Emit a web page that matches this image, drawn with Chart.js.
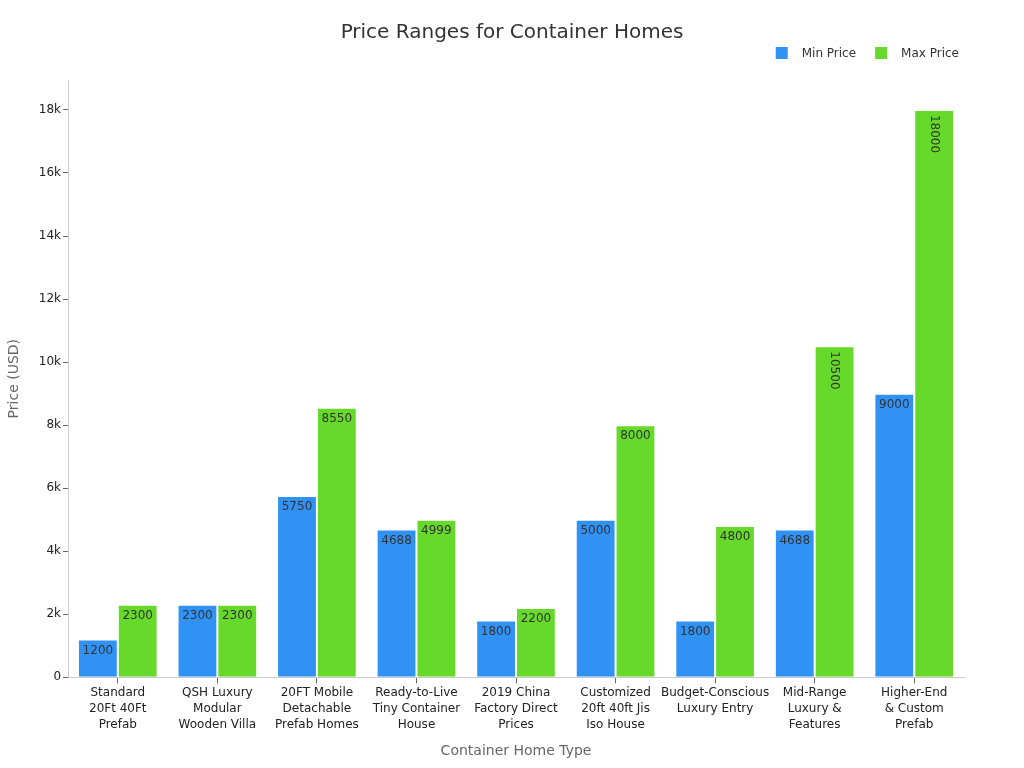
<!DOCTYPE html>
<html>
<head>
<meta charset="utf-8">
<script src="https://cdn.jsdelivr.net/npm/chart.js@4/dist/chart.umd.min.js"></script>
<style>
  html, body { margin: 0; padding: 0; background: #fff; }
  #wrap { width: 1024px; height: 768px; }
</style>
</head>
<body>
<div id="wrap"><canvas id="chart" width="1024" height="768"></canvas></div>
<script>
// container home price ranges
const categories = [
  ["Standard", "20Ft 40Ft", "Prefab"],
  ["QSH Luxury", "Modular", "Wooden Villa"],
  ["20FT Mobile", "Detachable", "Prefab Homes"],
  ["Ready-to-Live", "Tiny Container", "House"],
  ["2019 China", "Factory Direct", "Prices"],
  ["Customized", "20ft 40ft Jis", "Iso House"],
  ["Budget-Conscious", "Luxury Entry"],
  ["Mid-Range", "Luxury &", "Features"],
  ["Higher-End", "& Custom", "Prefab"],
];
const minPrice = [1200, 2300, 5750, 4688, 1800, 5000, 1800, 4688, 9000];
const maxPrice = [2300, 2300, 8550, 4999, 2200, 8000, 4800, 10500, 18000];
const yTicks = [0, 2000, 4000, 6000, 8000, 10000, 12000, 14000, 16000, 18000];

const FONT = "'DejaVu Sans', sans-serif";
const TITLE = "Price Ranges for Container Homes";

// draws the value inside the top of each bar, turned sideways if it won't fit
const barLabels = {
  id: "barLabels",
  afterDatasetsDraw(chart) {
    const ctx = chart.ctx;
    ctx.save();
    ctx.font = "12px " + FONT;
    ctx.fillStyle = "#333";
    chart.data.datasets.forEach((ds, i) => {
      const meta = chart.getDatasetMeta(i);
      meta.data.forEach((bar, j) => {
        const text = String(ds.data[j]);
        const w = ctx.measureText(text).width;
        if (w + 4 <= bar.width) {
          ctx.textAlign = "center";
          ctx.textBaseline = "top";
          ctx.fillText(text, bar.x, bar.y + 5);
        } else {
          ctx.save();
          ctx.translate(bar.x, bar.y + 5);
          ctx.rotate(Math.PI / 2);
          ctx.textAlign = "left";
          ctx.textBaseline = "middle";
          ctx.fillText(text, 0, 0);
          ctx.restore();
        }
      });
    });
    ctx.restore();
  },
};

// title centred on the page and legend in the top right corner
const header = {
  id: "header",
  afterDraw(chart) {
    const ctx = chart.ctx;
    ctx.save();
    ctx.fillStyle = "#333";
    ctx.font = "20px " + FONT;
    ctx.textAlign = "center";
    ctx.textBaseline = "middle";
    ctx.fillText(TITLE, chart.width / 2, 33);

    ctx.font = "12px " + FONT;
    ctx.textAlign = "left";
    const items = chart.data.datasets.map(ds => ({ text: ds.label, color: ds.backgroundColor }));
    let x = 959;
    for (let k = items.length - 1; k >= 0; k--) {
      const w = ctx.measureText(items[k].text).width;
      x -= w;
      ctx.fillStyle = "#333";
      ctx.fillText(items[k].text, x, 54);
      x -= 14;
      ctx.fillStyle = items[k].color;
      ctx.fillRect(x - 12, 47, 12, 12);
      x -= 12 + 19;
    }
    ctx.restore();
  },
};

const ctx = document.getElementById("chart").getContext("2d");
new Chart(ctx, {
  type: "bar",
  data: {
    labels: categories,
    datasets: [
      {
        label: "Min Price",
        data: minPrice,
        backgroundColor: "#3192f6",
        borderColor: "rgba(255,255,255,0.7)",
        borderWidth: 1,
        barPercentage: 1.0,
        categoryPercentage: 0.8,
      },
      {
        label: "Max Price",
        data: maxPrice,
        backgroundColor: "#67d92a",
        borderColor: "rgba(255,255,255,0.7)",
        borderWidth: 1,
        barPercentage: 1.0,
        categoryPercentage: 0.8,
      },
    ],
  },
  options: {
    responsive: false,
    animation: false,
    layout: { padding: { left: 2, right: 60, top: 80, bottom: 4 } },
    scales: {
      x: {
        grid: { display: true, drawOnChartArea: false, color: "transparent", tickLength: 6, tickColor: "#666", offset: false },
        border: { color: "#ccc" },
        ticks: { color: "#222", font: { family: FONT, size: 12, lineHeight: 1.33 }, maxRotation: 0, autoSkip: false, padding: 2 },
        title: { display: true, text: "Container Home Type", color: "#666", font: { family: FONT, size: 14 }, padding: { top: 8 } },
      },
      y: {
        min: 0,
        max: 18950,
        afterBuildTicks(axis) {
          axis.ticks = yTicks.map(v => ({ value: v }));
        },
        grid: { display: true, drawOnChartArea: false, color: "transparent", tickLength: 5, tickColor: "#666" },
        border: { color: "#ccc" },
        ticks: {
          color: "#222",
          font: { family: FONT, size: 12 },
          padding: 2,
          callback: v => (v === 0 ? "0" : v / 1000 + "k"),
        },
        title: { display: true, text: "Price (USD)", color: "#666", font: { family: FONT, size: 14 }, padding: { bottom: 14 } },
      },
    },
    plugins: {
      title: { display: false },
      legend: { display: false },
      tooltip: { enabled: false },
    },
  },
  plugins: [barLabels, header],
});
</script>
</body>
</html>
